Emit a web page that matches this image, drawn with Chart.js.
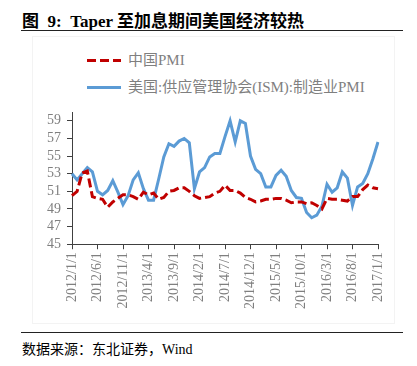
<!DOCTYPE html>
<html>
<head>
<meta charset="utf-8">
<script src="https://cdn.jsdelivr.net/npm/chart.js@4.4.1/dist/chart.umd.min.js"></script>
<style>
body{margin:0;width:417px;height:366px;background:#fff;position:relative;overflow:hidden;font-family:"Liberation Serif","Noto Sans CJK SC",serif}
#title{position:absolute;left:22px;top:7px;font-size:17px;font-weight:bold;color:#000;white-space:nowrap}
.rule{position:absolute;left:21px;width:382px;height:0;border-top:1.5px solid #222}
#frame{position:absolute;left:32px;top:36px;width:361px;height:286px;border:1px solid #f3f3f3}
.leg{position:absolute;left:87px;font-size:15px;color:#7f7f7f;white-space:nowrap}
.leg i{display:inline-block;width:34px;height:3px;vertical-align:middle;margin-right:7px;position:relative;top:-1px}
#source{position:absolute;left:22px;top:338px;font-size:14px;color:#000;white-space:nowrap}
#c{position:absolute;left:0;top:95px}
</style>
</head>
<body>
<div id="title">图&nbsp; 9:&nbsp; Taper 至加息期间美国经济较热</div>
<div class="rule" style="top:30px"></div>
<div id="frame"></div>
<div class="leg" style="top:48px"><i style="background:repeating-linear-gradient(90deg,#c00000 0 9px,transparent 9px 13px)"></i>中国PMI</div>
<div class="leg" style="top:75px"><i style="background:#5b9bd5"></i>美国:供应管理协会(ISM):制造业PMI</div>
<canvas id="c" width="417" height="217"></canvas>
<div class="rule" style="top:332px"></div>
<div id="source">数据来源：东北证券，Wind</div>
<script>
// monthly, 2012/1 - 2017/1
let months=[
'2012/1/1','2012/2/1','2012/3/1','2012/4/1','2012/5/1','2012/6/1','2012/7/1','2012/8/1','2012/9/1','2012/10/1','2012/11/1','2012/12/1',
'2013/1/1','2013/2/1','2013/3/1','2013/4/1','2013/5/1','2013/6/1','2013/7/1','2013/8/1','2013/9/1','2013/10/1','2013/11/1','2013/12/1',
'2014/1/1','2014/2/1','2014/3/1','2014/4/1','2014/5/1','2014/6/1','2014/7/1','2014/8/1','2014/9/1','2014/10/1','2014/11/1','2014/12/1',
'2015/1/1','2015/2/1','2015/3/1','2015/4/1','2015/5/1','2015/6/1','2015/7/1','2015/8/1','2015/9/1','2015/10/1','2015/11/1','2015/12/1',
'2016/1/1','2016/2/1','2016/3/1','2016/4/1','2016/5/1','2016/6/1','2016/7/1','2016/8/1','2016/9/1','2016/10/1','2016/11/1','2016/12/1',
'2017/1/1'];

let chinaPMI=[
50.5,51.0,53.1,53.3,50.4,50.2,50.1,49.2,49.8,50.2,50.6,50.6,
50.4,50.1,50.9,50.6,50.8,50.1,50.3,51.0,51.1,51.4,51.4,51.0,
50.5,50.2,50.3,50.4,50.8,51.0,51.7,51.1,51.1,50.8,50.3,50.1,
49.8,49.9,50.1,50.1,50.2,50.2,50.0,49.7,49.8,49.8,49.6,49.7,
49.4,49.0,50.2,50.1,50.1,50.0,49.9,50.4,50.4,51.2,51.7,51.4,
51.3];

let usISM=[
53.0,52.3,53.0,53.7,53.2,51.0,50.6,51.1,52.2,50.9,49.5,50.5,
52.3,53.1,51.3,50.0,50.0,52.4,54.9,56.4,56.1,56.7,57.0,56.5,
51.3,53.2,53.7,54.9,55.3,55.3,57.2,59.0,56.6,59.0,58.7,55.0,
53.5,53.0,51.5,51.5,52.8,53.4,52.7,51.1,50.3,50.2,48.6,48.0,
48.3,49.3,51.8,50.9,51.4,53.2,52.5,49.4,51.5,51.9,53.0,54.7,
56.6];

let yTicks=[45,47,49,51,53,55,57,59];

let axisColor='#404040';
let labelColor='#7f7f7f';

let ctx=document.getElementById('c').getContext('2d');
let pmiChart=new Chart(ctx,{
    type:'line',
    data:{
        labels:months,
        datasets:[{
            label:'中国PMI',
            data:chinaPMI,
            borderColor:'#c00000',
            borderWidth:3,
            borderDash:[9,4],
            pointRadius:0,
            tension:0,
            order:0
        },{
            label:'美国:供应管理协会(ISM):制造业PMI',
            data:usISM,
            borderColor:'#5b9bd5',
            borderWidth:3,
            pointRadius:0,
            tension:0,
            order:1
        }]
    },
    options:{
        responsive:false,
        devicePixelRatio:1,
        animation:false,
        layout:{padding:{left:41,right:39,top:17,bottom:0}},
        plugins:{legend:{display:false},tooltip:{enabled:false}},
        scales:{
            x:{
                offset:false,
                border:{display:true,color:axisColor,width:1},
                grid:{
                    drawOnChartArea:false,
                    tickLength:5,
                    color:c=>c.index%5===0?axisColor:'rgba(0,0,0,0)'
                },
                ticks:{
                    autoSkip:false,
                    minRotation:90,
                    maxRotation:90,
                    padding:3,
                    color:labelColor,
                    font:{family:'Liberation Serif',size:14},
                    callback:function(v,i){return i%5===0?this.getLabelForValue(v):'';}
                }
            },
            y:{
                min:45,
                max:60,
                afterBuildTicks:s=>{s.ticks=yTicks.map(v=>({value:v}));},
                border:{display:true,color:axisColor,width:1},
                grid:{drawOnChartArea:false,tickLength:5,color:axisColor},
                ticks:{
                    autoSkip:false,
                    padding:6,
                    color:labelColor,
                    font:{family:'Liberation Serif',size:14}
                }
            }
        }
    }
});
</script>
</body>
</html>
